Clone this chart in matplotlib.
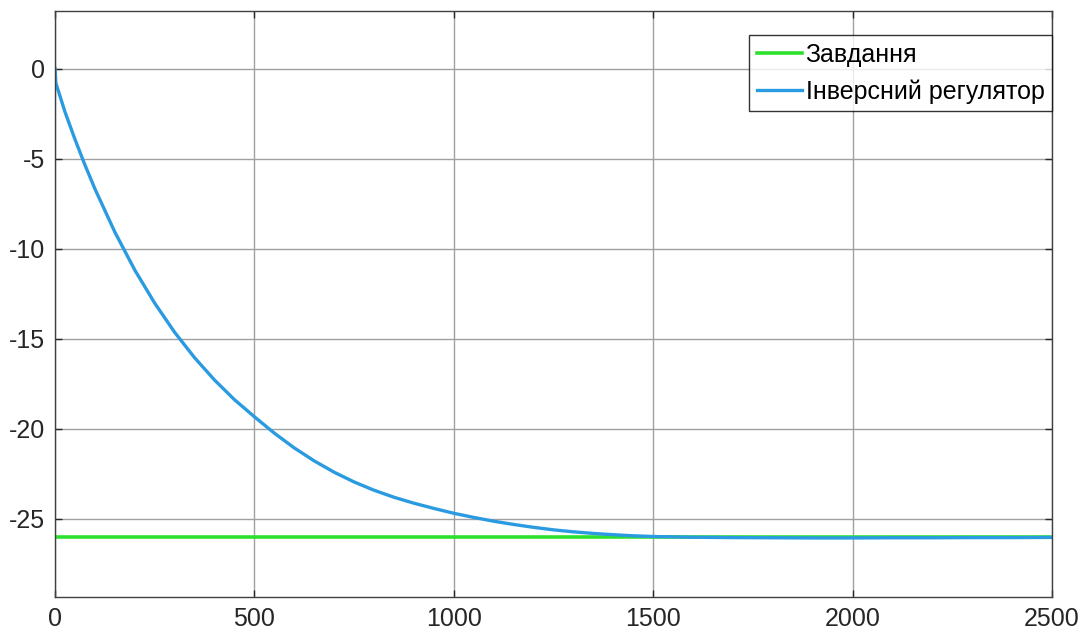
import numpy as np
import matplotlib
matplotlib.use("Agg")
import matplotlib.pyplot as plt

plt.rcParams['font.family'] = ['Liberation Sans', 'DejaVu Sans']
plt.rcParams['axes.unicode_minus'] = False

# --- Data ---
t = [0, 2, 25, 50, 75, 100, 150, 200, 250, 300, 350, 400, 450, 500, 550,
     600, 650, 700, 750, 800, 850, 900, 950, 1000, 1050, 1100, 1150, 1200,
     1250, 1300, 1350, 1400, 1450, 1500, 1600, 1700, 1800, 1900, 2000,
     2100, 2200, 2300, 2400, 2500]
response = [0, -0.8, -2.41, -3.93, -5.35, -6.68, -9.08, -11.19, -13.03,
            -14.65, -16.06, -17.30, -18.39, -19.34, -20.25, -21.07, -21.79,
            -22.42, -22.96, -23.42, -23.81, -24.14, -24.43, -24.70, -24.93,
            -25.14, -25.32, -25.48, -25.62, -25.73, -25.82, -25.89, -25.95,
            -25.99, -26.03, -26.05, -26.06, -26.07, -26.07, -26.06, -26.06,
            -26.05, -26.05, -26.04]
setpoint_t = [0, 2500]
setpoint = [-26, -26]

labels = ["Завдання", "Інверсний регулятор"]
xticks = [0, 500, 1000, 1500, 2000, 2500]
yticks = [0, -5, -10, -15, -20, -25]

# --- Plot ---
fig = plt.figure(figsize=(10.9, 6.37), dpi=100)
ax = fig.add_axes([0.0505, 0.0628, 0.9146, 0.9199])

ax.plot(setpoint_t, setpoint, color='#2ee02e', lw=2.6, label=labels[0])
ax.plot(t, response, color='#2a9be0', lw=2.4, label=labels[1])

ax.set_xlim(0, 2500)
ax.set_ylim(-29.35, 3.2)
ax.set_xticks(xticks)
ax.set_yticks(yticks)
ax.grid(True, color='#a0a0a0', lw=1)
ax.set_axisbelow(True)
ax.tick_params(direction='in', length=5, width=1, top=True, right=True,
               labelsize=18, colors='#262626', pad=7)
for s in ax.spines.values():
    s.set_color('#404040')
    s.set_linewidth(1)

leg = ax.legend(loc='upper right', bbox_to_anchor=(1.0, 0.959), fontsize=18,
                frameon=True, fancybox=False, edgecolor='black',
                handlelength=1.8, handletextpad=0.15, borderpad=0.3,
                labelspacing=0.5, borderaxespad=0)
leg.get_frame().set_linewidth(1)

fig.savefig("out.png", dpi=100)
